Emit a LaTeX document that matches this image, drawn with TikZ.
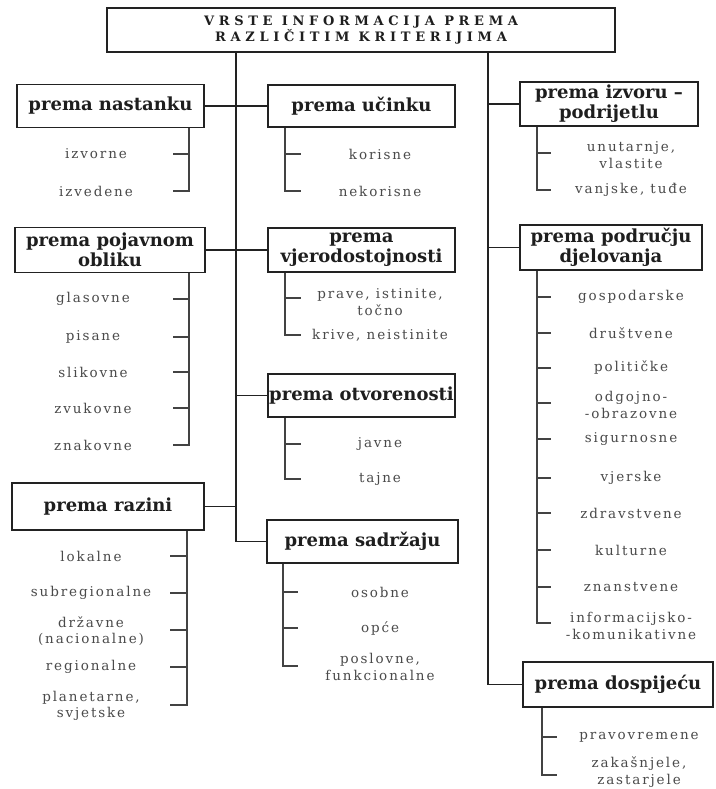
\documentclass[tikz,border=0pt]{standalone}
\usepackage{fontspec}
\setmainfont{DejaVu Serif}
\newfontfamily\boxf{DejaVu Serif}
\newfontfamily\subf{DejaVu Serif}[LetterSpace=14]
\newfontfamily\titf{DejaVu Serif}[LetterSpace=36]
\definecolor{linec}{HTML}{222222}
\definecolor{boxtext}{HTML}{1E1E1E}
\definecolor{subtext}{HTML}{4A4A4A}
\begin{document}
\begin{tikzpicture}[x=1pt,y=-1pt,
 box/.style={draw=linec, line width=1.8pt, fill=white, align=center, inner sep=0pt,
   font=\boxf\bfseries\fontsize{18}{20}\selectfont, text=boxtext},
 item/.style={align=center, inner sep=0pt, font=\subf\fontsize{13.5}{16.5}\selectfont, text=subtext},
 trunk/.style={draw=linec, line width=1.8pt},
 branch/.style={draw=linec!85, line width=1.2pt},
]
\useasboundingbox (0,0) rectangle (715,789);
\fill[white] (0,0) rectangle (715,789);

% branch x positions
\coordinate (T1) at (236,0);
\coordinate (T2) at (488,0);
\coordinate (LA) at (189,0);
\coordinate (LB) at (187,0);
\coordinate (CA) at (285,0);
\coordinate (CB) at (283,0);
\coordinate (RA) at (537,0);
\coordinate (RB) at (542,0);

% boxes
\node[box, font=\titf\bfseries\fontsize{13}{15.5}\selectfont, minimum width=508pt, minimum height=44pt] (title) at (361,30) {VRSTE INFORMACIJA PREMA\\RAZLIČITIM KRITERIJIMA};
\node[box, minimum width=187pt, minimum height=43pt] (nast) at (110.5,106) {prema nastanku};
\node[box, minimum width=187pt, minimum height=42pt] (ucin) at (361.5,106) {prema učinku};
\node[box, minimum width=178pt, minimum height=44pt] (izvor) at (609,104) {prema izvoru –\\podrijetlu};
\node[box, minimum width=190pt, minimum height=45pt] (pojav) at (110,250) {prema pojavnom\\obliku};
\node[box, minimum width=187pt, minimum height=44pt] (vjero) at (361.5,250) {prema\\vjerodostojnosti};
\node[box, minimum width=182pt, minimum height=45pt] (podr) at (611,247.5) {prema području\\djelovanja};
\node[box, minimum width=187pt, minimum height=43pt] (otvor) at (361.5,395.5) {prema otvorenosti};
\node[box, minimum width=192pt, minimum height=47pt] (razin) at (108,506.5) {prema razini};
\node[box, minimum width=191pt, minimum height=43pt] (sadr) at (362.5,541.5) {prema sadržaju};
\node[box, minimum width=190pt, minimum height=45pt] (dosp) at (618,684.5) {prema dospijeću};

% main connectors
\draw[trunk] (title.south -| T1) |- (sadr.west);
\draw[trunk] (nast.east) -- (ucin.west);
\draw[trunk] (pojav.east) -- (vjero.west);
\draw[trunk] (otvor.west -| T1) -- (otvor.west);
\draw[trunk] (razin.east) -- (razin.east -| T1);
\draw[trunk] (title.south -| T2) |- (dosp.west);
\draw[trunk] (izvor.west -| T2) -- (izvor.west);
\draw[trunk] (podr.west -| T2) -- (podr.west);

% items: prema nastanku
\node[item] (n1) at (96,154) {izvorne};
\node[item] (n2) at (96,191) {izvedene};
\draw[branch] (nast.south -| LA) -- (n2 -| LA) -- ++(-16,0);
\draw[branch] (n1 -| LA) -- ++(-16,0);

% prema učinku
\node[item] (u1) at (380,154) {korisne};
\node[item] (u2) at (380,191) {nekorisne};
\draw[branch] (ucin.south -| CA) -- (u2 -| CA) -- ++(16,0);
\draw[branch] (u1 -| CA) -- ++(16,0);

% prema izvoru
\node[item] (z1) at (631,155) {unutarnje,\\vlastite};
\node[item] (z2) at (631,190) {vanjske, tuđe};
\draw[branch] (izvor.south -| RA) -- (z2 -| RA) -- ++(14,0);
\draw[branch] (RA |- 0,153) coordinate (z1t) -- ++(14,0);

% prema pojavnom obliku
\node[item] (p1) at (93,299) {glasovne};
\node[item] (p2) at (93,337) {pisane};
\node[item] (p3) at (93,372) {slikovne};
\node[item] (p4) at (93,408) {zvukovne};
\node[item] (p5) at (93,445) {znakovne};
\draw[branch] (pojav.south -| LA) -- (p5 -| LA) -- ++(-16,0);
\foreach \i in {p1,p2,p3,p4} \draw[branch] (\i -| LA) -- ++(-16,0);

% prema vjerodostojnosti
\node[item] (v1) at (380,302) {prave, istinite,\\točno};
\node[item] (v2) at (380,335) {krive, neistinite};
\draw[branch] (vjero.south -| CA) -- (v2 -| CA) -- ++(16,0);
\draw[branch] (CA |- 0,298) coordinate (v1t) -- ++(16,0);

% prema području djelovanja
\node[item] (d1) at (631,297) {gospodarske};
\node[item] (d2) at (631,333) {društvene};
\node[item] (d3) at (631,368) {političke};
\node[item] (d4) at (631,405) {odgojno-\\-obrazovne};
\node[item] (d5) at (631,439) {sigurnosne};
\node[item] (d6) at (631,478) {vjerske};
\node[item] (d7) at (631,513) {zdravstvene};
\node[item] (d8) at (631,550) {kulturne};
\node[item] (d9) at (631,587) {znanstvene};
\node[item] (d10) at (631,626) {informacijsko-\\-komunikativne};
\draw[branch] (podr.south -| RA) -- (RA |- 0,623) coordinate (d10t) -- ++(14,0);
\foreach \i in {d1,d2,d3,d5,d6,d7,d8,d9} \draw[branch] (\i -| RA) -- ++(14,0);
\draw[branch] (RA |- 0,403) coordinate (d4t) -- ++(14,0);

% prema otvorenosti
\node[item] (o1) at (380,444) {javne};
\node[item] (o2) at (380,479) {tajne};
\draw[branch] (otvor.south -| CA) -- (o2 -| CA) -- ++(16,0);
\draw[branch] (o1 -| CA) -- ++(16,0);

% prema razini
\node[item] (r1) at (91,556) {lokalne};
\node[item] (r2) at (91,593) {subregionalne};
\node[item] (r3) at (91,631) {državne\\(nacionalne)};
\node[item] (r4) at (91,667) {regionalne};
\node[item] (r5) at (91,706) {planetarne,\\svjetske};
\draw[branch] (razin.south -| LB) -- (LB |- 0,705) coordinate (r5t) -- ++(-17,0);
\foreach \i in {r1,r2,r4} \draw[branch] (\i -| LB) -- ++(-17,0);
\draw[branch] (LB |- 0,630) coordinate (r3t) -- ++(-17,0);

% prema sadržaju
\node[item] (s1) at (380,592) {osobne};
\node[item] (s2) at (380,628) {opće};
\node[item] (s3) at (380,667) {poslovne,\\funkcionalne};
\draw[branch] (sadr.south -| CB) -- (CB |- 0,666) coordinate (s3t) -- ++(15,0);
\draw[branch] (s1 -| CB) -- ++(15,0);
\draw[branch] (s2 -| CB) -- ++(15,0);

% prema dospijeću
\node[item] (f1) at (639,737) {pravovremene};
\node[item] (f2) at (639,772) {zakašnjele,\\zastarjele};
\draw[branch] (dosp.south -| RB) -- (RB |- 0,775) coordinate (f2t) -- ++(15,0);
\draw[branch] (f1 -| RB) -- ++(15,0);
\end{tikzpicture}
\end{document}
